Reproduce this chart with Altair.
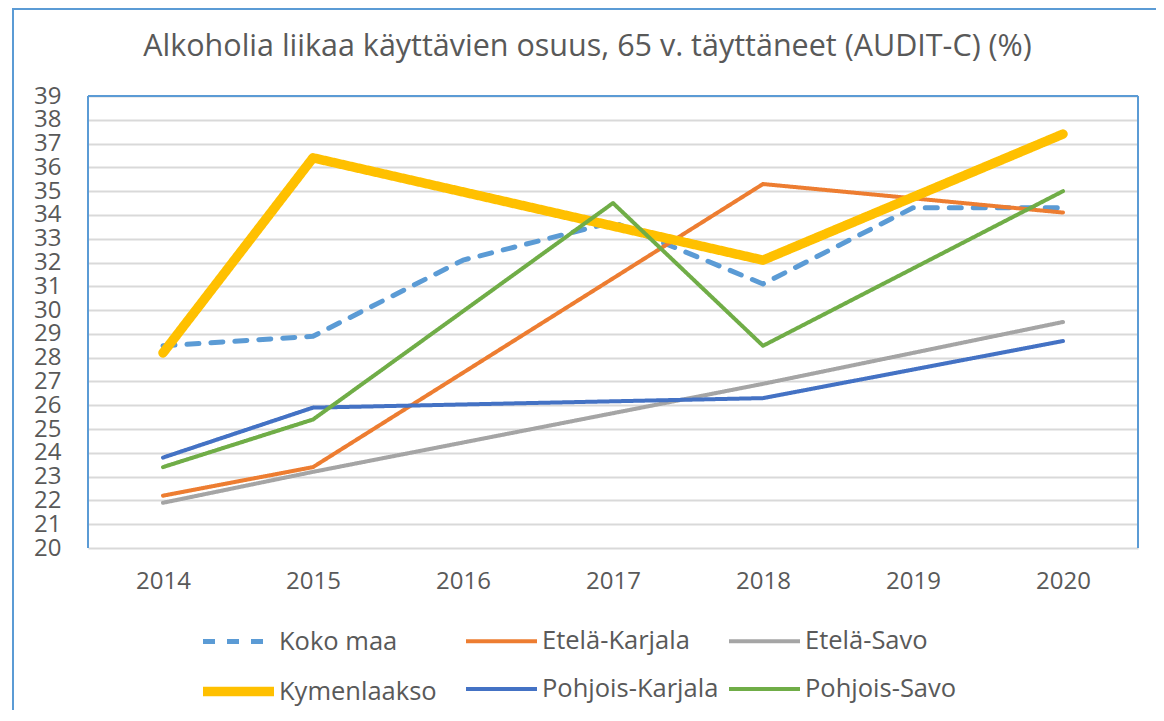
import altair as alt
import pandas as pd

title_text = "Alkoholia liikaa käyttävien osuus, 65 v. täyttäneet (AUDIT-C) (%)"
years = ["2014", "2015", "2016", "2017", "2018", "2019", "2020"]
series_names = ["Koko maa", "Etelä-Karjala", "Etelä-Savo", "Kymenlaakso", "Pohjois-Karjala", "Pohjois-Savo"]
series_colors = ["#5b9bd5", "#ed7d31", "#a5a5a5", "#ffc000", "#4472c4", "#70ad47"]

koko_maa = [28.5, 28.9, 32.1, 33.7, 31.1, 34.3, 34.3]
etela_karjala = [22.2, 23.4, None, None, 35.3, None, 34.1]
etela_savo = [21.9, 23.2, None, None, 26.9, None, 29.5]
kymenlaakso = [28.2, 36.4, None, None, 32.1, None, 37.4]
pohjois_karjala = [23.8, 25.9, None, None, 26.3, None, 28.7]
pohjois_savo = [23.4, 25.4, None, 34.5, 28.5, None, 35.0]

y_ticks = list(range(20, 40))

all_values = [koko_maa, etela_karjala, etela_savo, kymenlaakso, pohjois_karjala, pohjois_savo]
rows = []
for si, (name, vals) in enumerate(zip(series_names, all_values)):
    for yr, v in zip(years, vals):
        if v is not None:
            rows.append({"Vuosi": yr, "Arvo": v, "Sarja": name, "ord": si})
df = pd.DataFrame(rows)

FONT = "Open Sans"
TXT = "#595959"
W, H = 1050, 452

legend = alt.Legend(
    title=None, orient="none", legendX=128, legendY=521, direction="horizontal",
    columns=3, symbolType="M-2,0H2", symbolSize=1260, labelFontSize=25.5, labelFont=FONT,
    labelColor=TXT, labelOffset=18, columnPadding=2, rowPadding=10, gridAlign="all",
    padding=0, labelLimit=400,
)

lines = alt.Chart(df).mark_line(strokeCap="round", strokeJoin="round").encode(
    x=alt.X("Vuosi:O", sort=years, scale=alt.Scale(type="point", padding=0.5),
            axis=alt.Axis(title=None, labelAngle=0, labelFont=FONT, labelFontSize=24,
                          labelColor=TXT, domain=False, ticks=False, labelPadding=21, grid=False)),
    y=alt.Y("Arvo:Q", scale=alt.Scale(domain=[20, 39], nice=False, zero=False),
            axis=alt.Axis(title=None, values=y_ticks, labelFont=FONT, labelFontSize=24,
                          labelColor=TXT, domain=False, ticks=False, labelPadding=27,
                          labelOverlap=False, labelFlush=False,
                          gridColor="#d9d9d9", gridWidth=2)),
    color=alt.Color("Sarja:N", scale=alt.Scale(domain=series_names, range=series_colors), legend=legend),
    strokeDash=alt.StrokeDash("Sarja:N", scale=alt.Scale(domain=series_names,
                              range=[[12, 12], [1, 0], [1, 0], [1, 0], [1, 0], [1, 0]]), legend=legend),
    strokeWidth=alt.StrokeWidth("Sarja:N", scale=alt.Scale(type="ordinal", domain=series_names,
                                range=[5, 4, 4, 9.5, 4, 4]), legend=legend),
    order=alt.Order("ord:Q"),
)

border_left = alt.Chart(df).mark_rule(color="#5b9bd5", strokeWidth=2).encode(
    x=alt.value(0), y=alt.value(0), y2=alt.value(H))
border_right = alt.Chart(df).mark_rule(color="#5b9bd5", strokeWidth=2).encode(
    x=alt.value(W), y=alt.value(0), y2=alt.value(H))
border_top = alt.Chart(df).mark_rule(color="#5b9bd5", strokeWidth=2).encode(
    x=alt.value(0), x2=alt.value(W), y=alt.value(0))
outer_frame = alt.Chart(df).mark_rect(fill=None, stroke="#5b9bd5", strokeWidth=2).encode(
    x=alt.value(-75), x2=alt.value(1100), y=alt.value(-87), y2=alt.value(720))

title = alt.Chart(pd.DataFrame({"t": [title_text]})).mark_text(
    font=FONT, fontSize=30.5, color=TXT, align="center", baseline="middle").encode(
    text="t:N", x=alt.value(499.5), y=alt.value(-49))

chart = alt.layer(outer_frame, border_left, border_right, border_top, lines, title).properties(
    width=W, height=H,
    autosize=alt.AutoSizeParams(type="none"),
    padding={"left": 80, "top": 88, "right": 18, "bottom": 162},
).configure_view(stroke=None)

chart.save("out.html", embed_options={"renderer": "svg", "actions": False})
